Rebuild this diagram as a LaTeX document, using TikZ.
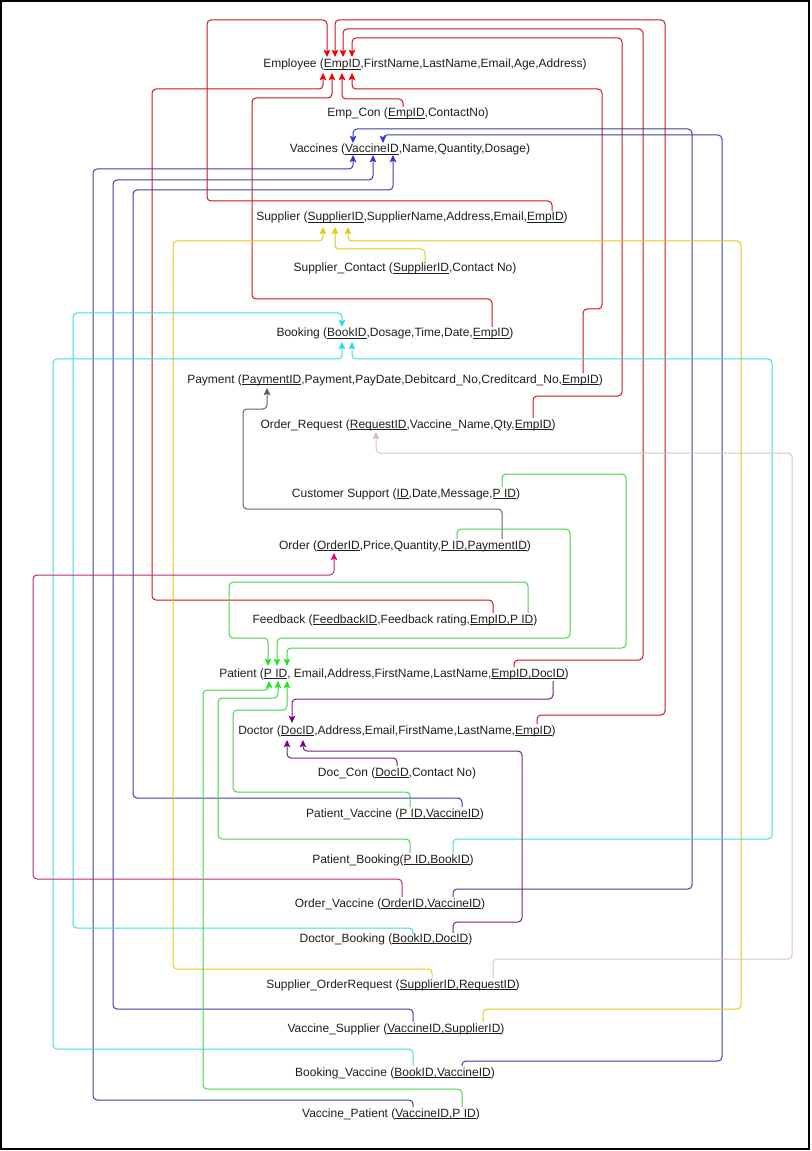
\documentclass[tikz,border=0pt]{standalone}
\usepackage{fontspec}
\setmainfont{Liberation Sans}
\usetikzlibrary{arrows.meta}
\definecolor{txt}{RGB}{30,30,30}
\definecolor{lRed}{RGB}{200,20,30}\definecolor{tRed}{RGB}{240,0,0}
\definecolor{lBlue}{RGB}{60,60,165}\definecolor{tBlue}{RGB}{50,50,220}
\definecolor{lYel}{RGB}{230,200,20}\definecolor{tYel}{RGB}{230,200,10}
\definecolor{lCyan}{RGB}{60,222,222}\definecolor{tCyan}{RGB}{30,220,230}
\definecolor{lGrey}{RGB}{100,100,100}\definecolor{tGrey}{RGB}{90,90,90}
\definecolor{lPink}{RGB}{225,192,192}\definecolor{tPink}{RGB}{225,180,180}
\definecolor{lMag}{RGB}{185,40,125}\definecolor{tMag}{RGB}{225,0,120}
\definecolor{lGreen}{RGB}{70,212,70}\definecolor{tGreen}{RGB}{30,230,30}
\definecolor{lPurp}{RGB}{120,30,130}\definecolor{tPurp}{RGB}{120,0,140}
\newcommand\myul[1]{\setbox0\hbox{#1}\rlap{\rule[-1.3pt]{\wd0}{0.55pt}}\box0}
\begin{document}
\begin{tikzpicture}[x=0.75pt,y=-0.75pt,
  lbl/.style={anchor=base,inner sep=0pt,font=\fontsize{9}{11}\selectfont,text=txt},
  conn/.style={rounded corners=3pt,line width=0.75pt},
  tipstyle/.style={-{Stealth[length=5.5pt,width=5pt,inset=1.2pt,color=#1]}},
  redl/.style={conn,draw=lRed,tipstyle=tRed},
  bluel/.style={conn,draw=lBlue,tipstyle=tBlue},
  yell/.style={conn,draw=lYel,tipstyle=tYel},
  cyanl/.style={conn,draw=lCyan,tipstyle=tCyan},
  greyl/.style={conn,draw=lGrey,tipstyle=tGrey},
  pinkl/.style={conn,draw=lPink,tipstyle=tPink},
  magl/.style={conn,draw=lMag,tipstyle=tMag},
  greenl/.style={conn,draw=lGreen,tipstyle=tGreen},
  purpl/.style={conn,draw=lPurp,tipstyle=tPurp}]
\useasboundingbox (0,0) rectangle (811,1151);
\draw[line width=1pt] (1,1) rectangle (809,1149);

% ---------- texts ----------
\node[lbl] (emp) at (425,68) {Employee (\myul{EmpID},FirstName,LastName,Email,Age,Address)};
\node[lbl] (empcon) at (408,117) {Emp\_Con (\myul{EmpID},ContactNo)};
\node[lbl] (vac) at (410,153) {Vaccines (\myul{VaccineID},Name,Quantity,Dosage)};
\node[lbl] (sup) at (412,221) {Supplier (\myul{SupplierID},SupplierName,Address,Email,\myul{EmpID})};
\node[lbl] (supcon) at (405,272) {Supplier\_Contact (\myul{SupplierID},Contact No)};
\node[lbl] (book) at (395,337) {Booking (\myul{BookID},Dosage,Time,Date,\myul{EmpID})};
\node[lbl] (pay) at (395,383) {Payment (\myul{PaymentID},Payment,PayDate,Debitcard\_No,Creditcard\_No,\myul{EmpID})};
\node[lbl] (ordreq) at (408,428) {Order\_Request (\myul{RequestID},Vaccine\_Name,Qty,\myul{EmpID})};
\node[lbl] (cs) at (406,497) {Customer Support (\myul{ID},Date,Message,\myul{P ID})};
\node[lbl] (ord) at (405,549) {Order (\myul{OrderID},Price,Quantity,\myul{P ID,PaymentID})};
\node[lbl] (fb) at (395,623) {Feedback (\myul{FeedbackID},Feedback rating,\myul{EmpID,P ID})};
\node[lbl] (pat) at (394,677) {Patient (\myul{P ID}, Email,Address,FirstName,LastName,\myul{EmpID,DocID})};
\node[lbl] (doc) at (397,734) {Doctor (\myul{DocID},Address,Email,FirstName,LastName,\myul{EmpID})};
\node[lbl] (doccon) at (397,776) {Doc\_Con (\myul{DocID},Contact No)};
\node[lbl] (pv) at (395,817) {Patient\_Vaccine (\myul{P ID,VaccineID})};
\node[lbl] (pb) at (393,863) {Patient\_Booking(\myul{P ID,BookID})};
\node[lbl] (ov) at (390,907) {Order\_Vaccine (\myul{OrderID,VaccineID})};
\node[lbl] (db) at (386,942) {Doctor\_Booking (\myul{BookID,DocID})};
\node[lbl] (sor) at (393,988) {Supplier\_OrderRequest (\myul{SupplierID,RequestID})};
\node[lbl] (vs) at (396,1032) {Vaccine\_Supplier (\myul{VaccineID,SupplierID})};
\node[lbl] (bv) at (395,1076) {Booking\_Vaccine (\myul{BookID,VaccineID})};
\node[lbl] (vp) at (391,1117) {Vaccine\_Patient (\myul{VaccineID,P ID})};

% ---------- attachment points ----------
\coordinate (empT1) at (327,57); \coordinate (empT2) at (335,57);
\coordinate (empT3) at (343,57); \coordinate (empT4) at (352,57);
\coordinate (empB1) at (323,73); \coordinate (empB2) at (332,73);
\coordinate (empB3) at (342,73); \coordinate (empB4) at (352,73);
\coordinate (supE) at (552,211); \coordinate (docE) at (537,724);
\coordinate (patE) at (514,667); \coordinate (ordreqE) at (533,418);
\coordinate (fbE) at (493,613); \coordinate (bkE) at (492,327);
\coordinate (econE) at (403,107); \coordinate (payE) at (583,373);

\coordinate (vacT1) at (353,143); \coordinate (vacT2) at (383,143);
\coordinate (vacB1) at (353,155); \coordinate (vacB2) at (373,155); \coordinate (vacB3) at (393,155);
\coordinate (ovV) at (453,897); \coordinate (bvV) at (462,1066);
\coordinate (vpV) at (413,1107); \coordinate (vsV) at (413,1022); \coordinate (pvV) at (462,807);

\coordinate (supB1) at (323,227); \coordinate (supB2) at (335,227); \coordinate (supB3) at (348,227);
\coordinate (sorS) at (432,978); \coordinate (scS) at (425,262); \coordinate (vsS) at (483,1022);

\coordinate (bkT) at (342,327); \coordinate (bkB1) at (342,342); \coordinate (bkB2) at (352,342);
\coordinate (dbB) at (413,935); \coordinate (bvB) at (413,1066); \coordinate (pbB) at (453,853);

\coordinate (payB) at (267,388); \coordinate (ordPay) at (502,539);
\coordinate (orqB) at (376,432); \coordinate (sorR) at (493,978);
\coordinate (ordB) at (334,553); \coordinate (ovO) at (402,897);

\coordinate (patT1) at (268,666); \coordinate (patT2) at (277,666); \coordinate (patT3) at (287,666);
\coordinate (patB1) at (269,681); \coordinate (patB2) at (278,681); \coordinate (patB3) at (287,681);
\coordinate (fbP) at (528,613); \coordinate (ordPid) at (457,539); \coordinate (csP) at (502,487);
\coordinate (vpP) at (462,1107); \coordinate (pbP) at (410,853); \coordinate (pvP) at (410,807);

\coordinate (docT) at (292,723); \coordinate (docB1) at (287,740); \coordinate (docB2) at (303,740);
\coordinate (patD) at (553,681); \coordinate (dcD) at (397,766); \coordinate (dbD) at (453,933);

% ---------- red : Employee ----------
\draw[redl] (supE) -- (552,201) -- (207,201) -- (207,20) -- (327,20) -- (empT1);
\draw[redl] (docE) -- (537,715) -- (665,715) -- (665,20) -- (335,20) -- (empT2);
\draw[redl] (patE) -- (514,660) -- (643,660) -- (643,29) -- (343,29) -- (empT3);
\draw[redl] (ordreqE) -- (533,396) -- (622,396) -- (622,38) -- (352,38) -- (empT4);
\draw[redl] (fbE) -- (493,600) -- (152,600) -- (152,89) -- (323,89) -- (empB1);
\draw[redl] (bkE) -- (492,299) -- (252,299) -- (252,98) -- (332,98) -- (empB2);
\draw[redl] (econE) -- (403,99) -- (342,99) -- (empB3);
\draw[redl] (payE) -- (583,309) -- (602,309) -- (602,89) -- (352,89) -- (empB4);

% ---------- blue : Vaccines ----------
\draw[bluel] (ovV) -- (453,889) -- (692,889) -- (692,129) -- (353,129) -- (vacT1);
\draw[bluel] (bvV) -- (462,1061) -- (722,1061) -- (722,135) -- (383,135) -- (vacT2);
\draw[bluel] (vpV) -- (413,1100) -- (93,1100) -- (93,169) -- (353,169) -- (vacB1);
\draw[bluel] (vsV) -- (413,1009) -- (113,1009) -- (113,180) -- (373,180) -- (vacB2);
\draw[bluel] (pvV) -- (462,798) -- (133,798) -- (133,190) -- (393,190) -- (vacB3);

% ---------- yellow : Supplier ----------
\draw[yell] (sorS) -- (432,969) -- (173,969) -- (173,241) -- (323,241) -- (supB1);
\draw[yell] (scS) -- (425,249) -- (335,249) -- (supB2);
\draw[yell] (vsS) -- (483,1009) -- (741,1009) -- (741,241) -- (348,241) -- (supB3);

% ---------- cyan : Booking ----------
\draw[cyanl] (dbB) -- (413,928) -- (73,928) -- (73,313) -- (342,313) -- (bkT);
\draw[cyanl] (bvB) -- (413,1049) -- (53,1049) -- (53,359) -- (342,359) -- (bkB1);
\draw[cyanl] (pbB) -- (453,839) -- (772,839) -- (772,359) -- (352,359) -- (bkB2);

% ---------- grey : Payment ----------
\draw[greyl] (ordPay) -- (502,509) -- (243,509) -- (243,409) -- (267,409) -- (payB);

% ---------- pink : Order_Request ----------
\draw[pinkl] (sorR) -- (493,959) -- (792,959) -- (792,453) -- (376,453) -- (orqB);

% ---------- magenta : Order ----------
\draw[magl] (ovO) -- (402,879) -- (33,879) -- (33,575) -- (334,575) -- (ordB);

% ---------- green : Patient ----------
\draw[greenl] (fbP) -- (528,582) -- (229,582) -- (229,638) -- (268,638) -- (patT1);
\draw[greenl] (ordPid) -- (457,529) -- (570,529) -- (570,638) -- (277,638) -- (patT2);
\draw[greenl] (csP) -- (502,474) -- (626,474) -- (626,648) -- (287,648) -- (patT3);
\draw[greenl] (vpP) -- (462,1089) -- (203,1089) -- (203,690) -- (269,690) -- (patB1);
\draw[greenl] (pbP) -- (410,839) -- (218,839) -- (218,698) -- (278,698) -- (patB2);
\draw[greenl] (pvP) -- (410,792) -- (233,792) -- (233,710) -- (287,710) -- (patB3);

% ---------- purple : Doctor ----------
\draw[purpl] (patD) -- (553,699) -- (292,699) -- (docT);
\draw[purpl] (dcD) -- (397,758) -- (287,758) -- (docB1);
\draw[purpl] (dbD) -- (453,922) -- (522,922) -- (522,751) -- (303,751) -- (docB2);
\end{tikzpicture}
\end{document}
